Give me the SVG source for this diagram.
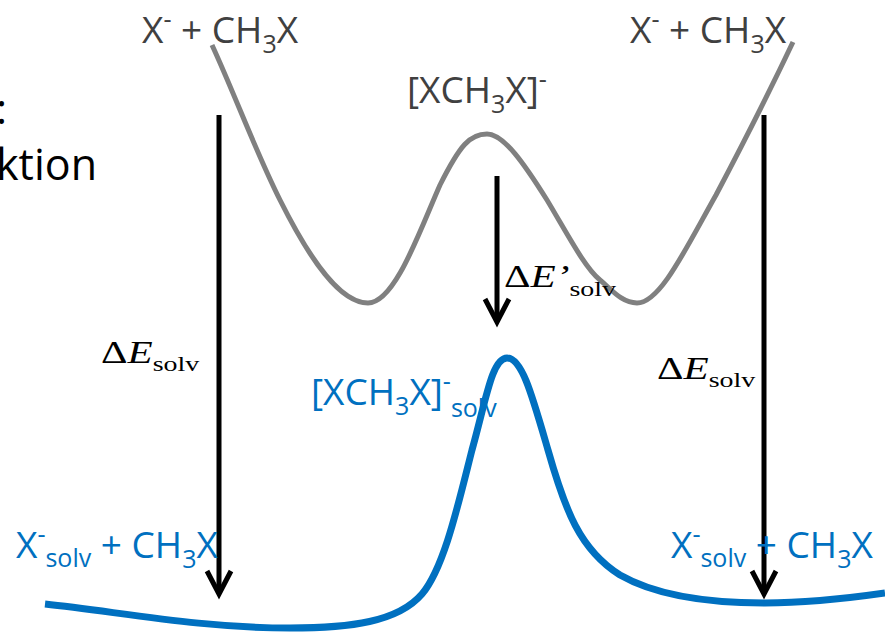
<svg xmlns="http://www.w3.org/2000/svg" width="885" height="636" viewBox="0 0 885 636">
<style>
.lbl{font-family:"Open Sans","Liberation Sans",sans-serif;font-size:37px}
.gray{fill:#404040}
.blue{fill:#0070C0}
.math{font-family:"Liberation Serif","Times New Roman",serif;font-size:31px;fill:#000}
.arrow{stroke:#000;stroke-width:5;fill:none}
</style>
<defs>
<marker id="chev" markerWidth="34" markerHeight="34" refX="27" refY="17" orient="auto" markerUnits="userSpaceOnUse" viewBox="0 0 34 34">
<path d="M4,5 L27,17 L4,29" stroke="#000" stroke-width="5" fill="none" stroke-linejoin="miter"/>
</marker>
</defs>
<rect width="885" height="636" fill="#fff"/>
<text x="-4" y="124" font-family="Open Sans, Liberation Sans, sans-serif" font-size="42" fill="#000">:</text>
<text x="-4" y="180" font-family="Open Sans, Liberation Sans, sans-serif" font-size="43" fill="#000">ktion</text>
<g id="curves">
<path d="M212,45 C235,95 255,150 280,200 C310,260 340,303 368,303 C395,303 420,230 440,185 C460,145 470,134 487,134 C504,134 525,165 547,200 C568,235 585,268 600,280 C612,290 622,303 637,303 C660,303 685,250 716,195 C745,140 775,80 793,42" stroke="#808080" stroke-width="5" fill="none"/>
<path d="M45,604 C120,612 200,628 290,628 C350,628 398,622 422,594 C444,568 458,505 472,450 C486,400 492,358 507,358 C522,358 532,395 548,450 C565,510 580,550 620,575 C660,598 720,603 765,603 C810,603 850,598 885,593" stroke="#0070C0" stroke-width="7" fill="none"/>
</g>
<g id="connectors">
<line class="arrow" x1="219" y1="115" x2="219" y2="594" marker-end="url(#chev)"/>
<line class="arrow" x1="497" y1="176" x2="497" y2="322" marker-end="url(#chev)"/>
<line class="arrow" x1="764" y1="115" x2="764" y2="594" marker-end="url(#chev)"/>
</g>
<g id="reactant-gas-left"><text class="lbl gray" x="142" y="43">X<tspan font-size="25" dy="-15">-</tspan><tspan dy="15"> + CH</tspan><tspan font-size="25" dy="10">3</tspan><tspan dy="-10">X</tspan></text></g>
<g id="reactant-gas-right"><text class="lbl gray" x="630" y="43">X<tspan font-size="25" dy="-15">-</tspan><tspan dy="15"> + CH</tspan><tspan font-size="25" dy="10">3</tspan><tspan dy="-10">X</tspan></text></g>
<g id="ts-gas"><text class="lbl gray" x="407" y="103">[XCH<tspan font-size="25" dy="10">3</tspan><tspan dy="-10">X]</tspan><tspan font-size="25" dy="-15">-</tspan></text></g>
<g id="ts-solv"><text class="lbl blue" x="311" y="405">[XCH<tspan font-size="25" dy="10">3</tspan><tspan dy="-10">X]</tspan><tspan font-size="25" dy="-15">-</tspan><tspan font-size="25" dy="27">solv</tspan></text></g>
<g id="reactant-solv-left"><text class="lbl blue" x="16" y="558">X<tspan font-size="25" dy="-15">-</tspan><tspan font-size="25" dy="24">solv</tspan><tspan dy="-9"> + CH</tspan><tspan font-size="25" dy="10">3</tspan><tspan dy="-10">X</tspan></text></g>
<g id="reactant-solv-right"><text class="lbl blue" x="671" y="558">X<tspan font-size="25" dy="-15">-</tspan><tspan font-size="25" dy="24">solv</tspan><tspan dy="-9"> + CH</tspan><tspan font-size="25" dy="10">3</tspan><tspan dy="-10">X</tspan></text></g>
<g id="dE-left" transform="translate(101,363) scale(1.33,1)"><text class="math" x="0" y="0">Δ<tspan font-style="italic">E</tspan><tspan font-size="21" dy="8">solv</tspan></text></g>
<g id="dE-right" transform="translate(657,379) scale(1.33,1)"><text class="math" x="0" y="0">Δ<tspan font-style="italic">E</tspan><tspan font-size="21" dy="8">solv</tspan></text></g>
<g id="dE-mid" transform="translate(504,287) scale(1.33,1)"><text class="math" x="0" y="0">Δ<tspan font-style="italic">E’</tspan><tspan font-size="21" dy="9">solv</tspan></text></g>
</svg>
